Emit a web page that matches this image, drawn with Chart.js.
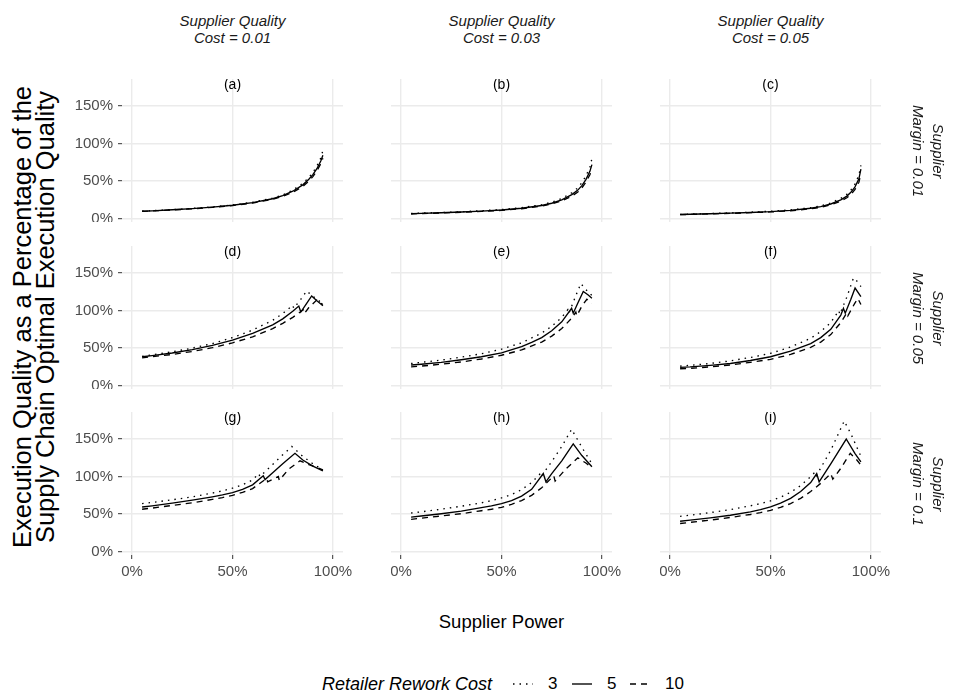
<!DOCTYPE html>
<html><head><meta charset="utf-8">
<script src="https://cdn.jsdelivr.net/npm/chart.js@4.4.1/dist/chart.umd.min.js"></script>
<style>
html,body{margin:0;padding:0;background:#fff;}
body{width:953px;height:696px;position:relative;overflow:hidden;font-family:"Liberation Sans",Arial,sans-serif;}
canvas{position:absolute;}
.t{position:absolute;white-space:nowrap;color:#1a1a1a;transform:translate(-50%,-50%);text-align:center;}
.strip{font-style:italic;font-size:15px;line-height:17px;}
.rstrip{font-style:italic;font-size:15px;line-height:20px;transform:translate(-50%,-50%) rotate(90deg);}
.axt{font-size:18.5px;color:#000;}
.lg{position:absolute;white-space:nowrap;color:#000;transform:translateY(-50%);}
</style></head><body>
<div id="stage"></div>
<script>
// ---- data ----
const costLabels = ['0.01', '0.03', '0.05'];       // Supplier Quality Cost (columns)
const marginLabels = ['0.01', '0.05', '0.1'];      // Supplier Margin (rows)
const panelLetters = ['(a)','(b)','(c)','(d)','(e)','(f)','(g)','(h)','(i)'];
const reworkCosts = ['3', '5', '10'];              // Retailer Rework Cost
const xTicks = [0, 0.5, 1];
const yTicks = [0, 50, 100, 150];

// each series: [supplier power, execution quality %]
const a3  = [[0.05,10],[0.1,10.6],[0.2,12],[0.3,13.6],[0.4,15.6],[0.5,18.2],[0.6,21.8],[0.7,27.3],[0.75,31.5],[0.8,38],[0.85,47],[0.88,55],[0.9,61.5],[0.92,70],[0.94,81],[0.95,91]];
const a5  = [[0.05,9.8],[0.1,10.4],[0.2,11.8],[0.3,13.3],[0.4,15.3],[0.5,17.8],[0.6,21.2],[0.7,26.5],[0.75,30.5],[0.8,36.5],[0.85,45],[0.88,52.5],[0.9,58.5],[0.92,66.5],[0.94,77],[0.95,84.5]];
const a10 = [[0.05,9.6],[0.1,10.2],[0.2,11.6],[0.3,13],[0.4,15],[0.5,17.4],[0.6,20.7],[0.7,25.8],[0.75,29.5],[0.8,35],[0.85,43],[0.88,50],[0.9,56],[0.92,63.5],[0.94,73.5],[0.95,80.5]];
const b3  = [[0.05,6.8],[0.1,7.3],[0.2,8.2],[0.3,9.2],[0.4,10.5],[0.5,12.1],[0.6,14.6],[0.7,18.6],[0.75,21.8],[0.8,26.8],[0.85,34.5],[0.88,41],[0.9,48],[0.92,56.5],[0.94,68.5],[0.95,80]];
const b5  = [[0.05,6.5],[0.1,7],[0.2,7.8],[0.3,8.8],[0.4,10],[0.5,11.5],[0.6,13.8],[0.7,17.5],[0.75,20.5],[0.8,25],[0.85,32],[0.88,38],[0.9,44],[0.92,52],[0.94,63],[0.95,72]];
const b10 = [[0.05,6.3],[0.1,6.8],[0.2,7.5],[0.3,8.5],[0.4,9.6],[0.5,11],[0.6,13.2],[0.7,16.7],[0.75,19.5],[0.8,23.6],[0.85,30],[0.88,35.5],[0.9,41],[0.92,48.5],[0.94,58.5],[0.95,67]];
const c3  = [[0.05,5.7],[0.1,6],[0.2,6.8],[0.3,7.6],[0.4,8.6],[0.5,9.8],[0.6,11.6],[0.7,14.6],[0.75,17],[0.8,20.8],[0.85,27],[0.88,32.5],[0.9,38],[0.92,46],[0.94,58],[0.95,71]];
const c5  = [[0.05,5.5],[0.1,5.8],[0.2,6.5],[0.3,7.3],[0.4,8.2],[0.5,9.3],[0.6,11],[0.7,13.8],[0.75,16],[0.8,19.5],[0.85,25],[0.88,30],[0.9,35],[0.92,42],[0.94,53],[0.95,66]];
const c10 = [[0.05,5.3],[0.1,5.6],[0.2,6.3],[0.3,7],[0.4,7.9],[0.5,8.9],[0.6,10.5],[0.7,13.1],[0.75,15.1],[0.8,18.3],[0.85,23.3],[0.88,27.8],[0.9,32.3],[0.92,38.5],[0.94,48.5],[0.95,60]];
const d3  = [[0.05,39],[0.1,41],[0.2,45],[0.3,50],[0.4,56],[0.5,64],[0.6,74],[0.7,87],[0.75,96],[0.8,107],[0.805,103],[0.84,115],[0.869,126],[0.9,119],[0.95,109]];
const d5  = [[0.05,38.5],[0.1,40],[0.2,43.5],[0.3,48],[0.4,53.5],[0.5,60.5],[0.6,69.5],[0.7,81],[0.75,89],[0.8,99],[0.83,106],[0.84,98],[0.87,110],[0.894,119.5],[0.92,113],[0.95,106.5]];
const d10 = [[0.05,37],[0.1,38.5],[0.2,41.5],[0.3,45.5],[0.4,50.5],[0.5,57],[0.6,65],[0.7,76],[0.75,83],[0.8,91],[0.852,101],[0.858,96],[0.88,104],[0.919,114],[0.95,108]];
const e3  = [[0.05,29.5],[0.1,31],[0.2,34],[0.3,38],[0.4,42.5],[0.5,48.5],[0.6,57],[0.7,70],[0.75,79],[0.8,91],[0.83,101],[0.835,96],[0.87,120],[0.895,136],[0.92,128],[0.95,120]];
const e5  = [[0.05,27.5],[0.1,28.5],[0.2,31],[0.3,34.5],[0.4,38.5],[0.5,43.5],[0.6,52],[0.65,57.5],[0.7,64],[0.75,73],[0.8,85],[0.849,103],[0.857,96.5],[0.88,110],[0.907,125.5],[0.93,121],[0.95,116.5]];
const e10 = [[0.05,25],[0.1,26],[0.2,28.5],[0.3,31.5],[0.4,35.5],[0.5,40.5],[0.6,47.5],[0.7,58],[0.75,66],[0.8,76],[0.85,90],[0.87,98],[0.875,93],[0.9,106],[0.925,115],[0.95,110]];
const f3  = [[0.05,26],[0.1,27],[0.2,29.5],[0.3,33],[0.4,37.5],[0.5,43],[0.6,51.5],[0.7,63],[0.75,72],[0.8,84],[0.84,100],[0.845,95],[0.88,118],[0.913,143.5],[0.935,138],[0.95,132]];
const f5  = [[0.05,24.3],[0.1,25],[0.2,27],[0.3,29.5],[0.4,33.5],[0.5,38.5],[0.6,46],[0.7,56],[0.75,64],[0.8,75],[0.85,94],[0.863,103],[0.872,96.5],[0.9,115],[0.921,130],[0.95,118.5]];
const f10 = [[0.05,22.5],[0.1,23],[0.2,25],[0.3,27.5],[0.4,31],[0.5,35],[0.6,41.5],[0.7,51],[0.75,58],[0.8,68],[0.85,84],[0.88,97],[0.885,93],[0.92,110],[0.935,116],[0.95,108]];
const g3  = [[0.05,64],[0.1,65.5],[0.2,69],[0.3,73],[0.4,78],[0.45,81],[0.5,84.5],[0.55,89],[0.6,95.5],[0.63,104],[0.637,100],[0.7,116],[0.75,129],[0.795,140],[0.85,127],[0.9,117],[0.95,109]];
const g5  = [[0.05,59.5],[0.1,61],[0.2,64.5],[0.3,68.5],[0.4,73],[0.45,75.5],[0.5,78.5],[0.55,83],[0.6,89],[0.653,101],[0.662,96],[0.7,105],[0.75,117],[0.811,131],[0.85,122],[0.9,114],[0.95,107.5]];
const g10 = [[0.05,56.5],[0.1,58],[0.2,61.5],[0.3,65],[0.4,69.5],[0.45,72],[0.5,75],[0.55,79],[0.6,84],[0.67,97.5],[0.675,93],[0.728,100],[0.733,95],[0.78,110],[0.836,121],[0.88,116],[0.95,109]];
const h3  = [[0.05,51.5],[0.1,53],[0.2,56.5],[0.3,60.5],[0.4,65],[0.45,68],[0.5,71.5],[0.55,76],[0.6,82.5],[0.65,92],[0.69,103],[0.695,99],[0.75,120],[0.8,140],[0.849,163],[0.9,139],[0.95,117]];
const h5  = [[0.05,46],[0.1,47.5],[0.2,50.5],[0.3,54],[0.4,58.5],[0.45,61],[0.5,64],[0.55,68],[0.6,74],[0.65,83],[0.708,104],[0.721,93],[0.75,104],[0.8,121],[0.857,143.5],[0.9,128],[0.95,113]];
const h10 = [[0.05,43],[0.1,44.5],[0.2,47.5],[0.3,50.5],[0.4,54.5],[0.45,56.5],[0.5,59],[0.55,63],[0.6,68],[0.65,75],[0.7,85],[0.76,101],[0.767,94],[0.82,110],[0.88,125],[0.92,118],[0.95,112]];
const i3  = [[0.05,47],[0.1,48.5],[0.2,52],[0.3,56],[0.4,61],[0.45,64],[0.5,67.5],[0.55,72.5],[0.6,79],[0.65,88],[0.7,100],[0.722,106],[0.728,101],[0.8,135],[0.867,174],[0.9,157],[0.95,127]];
const i5  = [[0.05,40.5],[0.1,42],[0.2,45],[0.3,48.5],[0.4,53],[0.45,56],[0.5,59.5],[0.55,64.5],[0.6,71],[0.65,80],[0.7,92],[0.73,104],[0.742,93],[0.8,117],[0.877,150],[0.92,131],[0.95,119.5]];
const i10 = [[0.05,37.5],[0.1,39],[0.2,42],[0.3,45.5],[0.4,49.5],[0.45,52],[0.5,55],[0.55,59],[0.6,64],[0.65,71],[0.7,80],[0.75,91],[0.8,104],[0.81,96.5],[0.85,111],[0.897,131],[0.93,122],[0.95,115]];

const panels = [[a3,a5,a10],[b3,b5,b10],[c3,c5,c10],
                [d3,d5,d10],[e3,e5,e10],[f3,f5,f10],
                [g3,g5,g10],[h3,h5,h10],[i3,i5,i10]];

// ---- layout / style ----
const colLeft = [122, 391, 660], panelW = 221;
const rowTop = [79, 246, 412], panelH = 143;
const yAxisW = 60, xAxisH = 40, padR = 30;
const dashFor = {'3':[1.5,5], '5':[], '10':[6,5]};
const FONT = '"Liberation Sans", Arial, sans-serif';

const panelLabelPlugin = {
  id: 'panelLabel',
  afterDatasetsDraw(chart, args, opts) {
    const ctx = chart.ctx;
    ctx.save();
    ctx.font = '14px ' + FONT;
    ctx.fillStyle = '#000';
    ctx.textAlign = 'center';
    ctx.textBaseline = 'middle';
    ctx.fillText(opts.text, chart.scales.x.getPixelForValue(0.5), chart.scales.y.getPixelForValue(178));
    ctx.restore();
  }
};

const stage = document.getElementById('stage');
function addText(cls, html, x, y) {
  const d = document.createElement('div');
  d.className = 't ' + cls; d.innerHTML = html;
  d.style.left = x + 'px'; d.style.top = y + 'px';
  document.body.appendChild(d);
  return d;
}

for (let r = 0; r < 3; r++) {
  for (let c = 0; c < 3; c++) {
    const idx = r * 3 + c;
    const yw = c === 0 ? yAxisW : 0;
    const xh = r === 2 ? xAxisH : 0;
    const cv = document.createElement('canvas');
    const w = yw + panelW + padR, h = panelH + xh;
    cv.width = w; cv.height = h;
    cv.style.left = (colLeft[c] - yw) + 'px';
    cv.style.top = rowTop[r] + 'px';
    cv.style.width = w + 'px'; cv.style.height = h + 'px';
    stage.appendChild(cv);
    const datasets = panels[idx].map((s, k) => ({
      label: reworkCosts[k],
      data: s.map(p => ({x: p[0], y: p[1]})),
      borderColor: '#000', borderWidth: 1.35,
      borderDash: dashFor[reworkCosts[k]],
      pointRadius: 0, tension: 0, fill: false
    }));
    new Chart(cv, {
      type: 'line',
      data: {datasets},
      options: {
        responsive: false, animation: false, devicePixelRatio: 1,
        layout: {padding: {left: 0, top: 0, right: padR, bottom: 0}},
        plugins: {legend: {display: false}, tooltip: {enabled: false}, panelLabel: {text: panelLetters[idx]}},
        scales: {
          x: {
            type: 'linear', min: -0.05, max: 1.05,
            afterBuildTicks: s => { s.ticks = xTicks.map(v => ({value: v})); },
            afterFit: s => { s.height = xh; s.paddingLeft = 0; s.paddingRight = 0; },
            border: {display: false},
            grid: {color: '#EBEBEB', lineWidth: 1.4, drawTicks: r === 2, tickLength: 4, tickColor: '#333333', tickWidth: 1},
            ticks: {display: r === 2, color: '#4D4D4D', font: {family: FONT, size: 15}, padding: 4,
                    maxRotation: 0, autoSkip: false, callback: v => Math.round(v * 100) + '%'}
          },
          y: {
            type: 'linear', min: -4.5, max: 186,
            afterBuildTicks: s => { s.ticks = yTicks.map(v => ({value: v})); },
            afterFit: s => { s.width = yw; s.paddingTop = 0; s.paddingBottom = 0; },
            border: {display: false},
            grid: {color: '#EBEBEB', lineWidth: 1.4, drawTicks: c === 0, tickLength: 4, tickColor: '#333333', tickWidth: 1},
            ticks: {display: c === 0, color: '#4D4D4D', font: {family: FONT, size: 15}, padding: 5,
                    autoSkip: false, callback: v => v + '%'}
          }
        }
      },
      plugins: [panelLabelPlugin]
    });
  }
}

// strips
for (let c = 0; c < 3; c++) {
  addText('strip', 'Supplier Quality<br>Cost = ' + costLabels[c], colLeft[c] + panelW / 2, 29);
}
for (let r = 0; r < 3; r++) {
  addText('rstrip', 'Supplier<br>Margin = ' + marginLabels[r], 928, rowTop[r] + panelH / 2);
}
// axis titles
const yt = addText('axt', 'Execution Quality as a Percentage of the<br>Supply Chain Optimal Execution Quality', 33.5, 317);
yt.style.fontSize = '25.5px';
yt.style.lineHeight = '23px';
yt.style.transform = 'translate(-50%,-50%) rotate(-90deg)';
addText('axt', 'Supplier Power', 501.5, 622);

// legend
function lgText(txt, x, size, italic) {
  const d = document.createElement('div');
  d.className = 'lg'; d.textContent = txt;
  d.style.left = x + 'px'; d.style.top = '684px';
  d.style.fontSize = size + 'px';
  if (italic) d.style.fontStyle = 'italic';
  document.body.appendChild(d);
}
function lgKey(k, x) {
  const ns = 'http://www.w3.org/2000/svg';
  const svg = document.createElementNS(ns, 'svg');
  svg.setAttribute('width', '20'); svg.setAttribute('height', '10');
  svg.style.position = 'absolute'; svg.style.left = x + 'px'; svg.style.top = '679px';
  const ln = document.createElementNS(ns, 'line');
  ln.setAttribute('x1', '0'); ln.setAttribute('y1', '5'); ln.setAttribute('x2', '20'); ln.setAttribute('y2', '5');
  ln.setAttribute('stroke', '#000'); ln.setAttribute('stroke-width', '1.35');
  if (dashFor[k].length) ln.setAttribute('stroke-dasharray', dashFor[k].join(','));
  svg.appendChild(ln);
  document.body.appendChild(svg);
}
lgText('Retailer Rework Cost', 322, 18, true);
const keyX = [513, 572, 630], labX = [548, 607, 665];
reworkCosts.forEach((k, i) => { lgKey(k, keyX[i]); lgText(k, labX[i], 17, false); });
</script>
</body></html>
